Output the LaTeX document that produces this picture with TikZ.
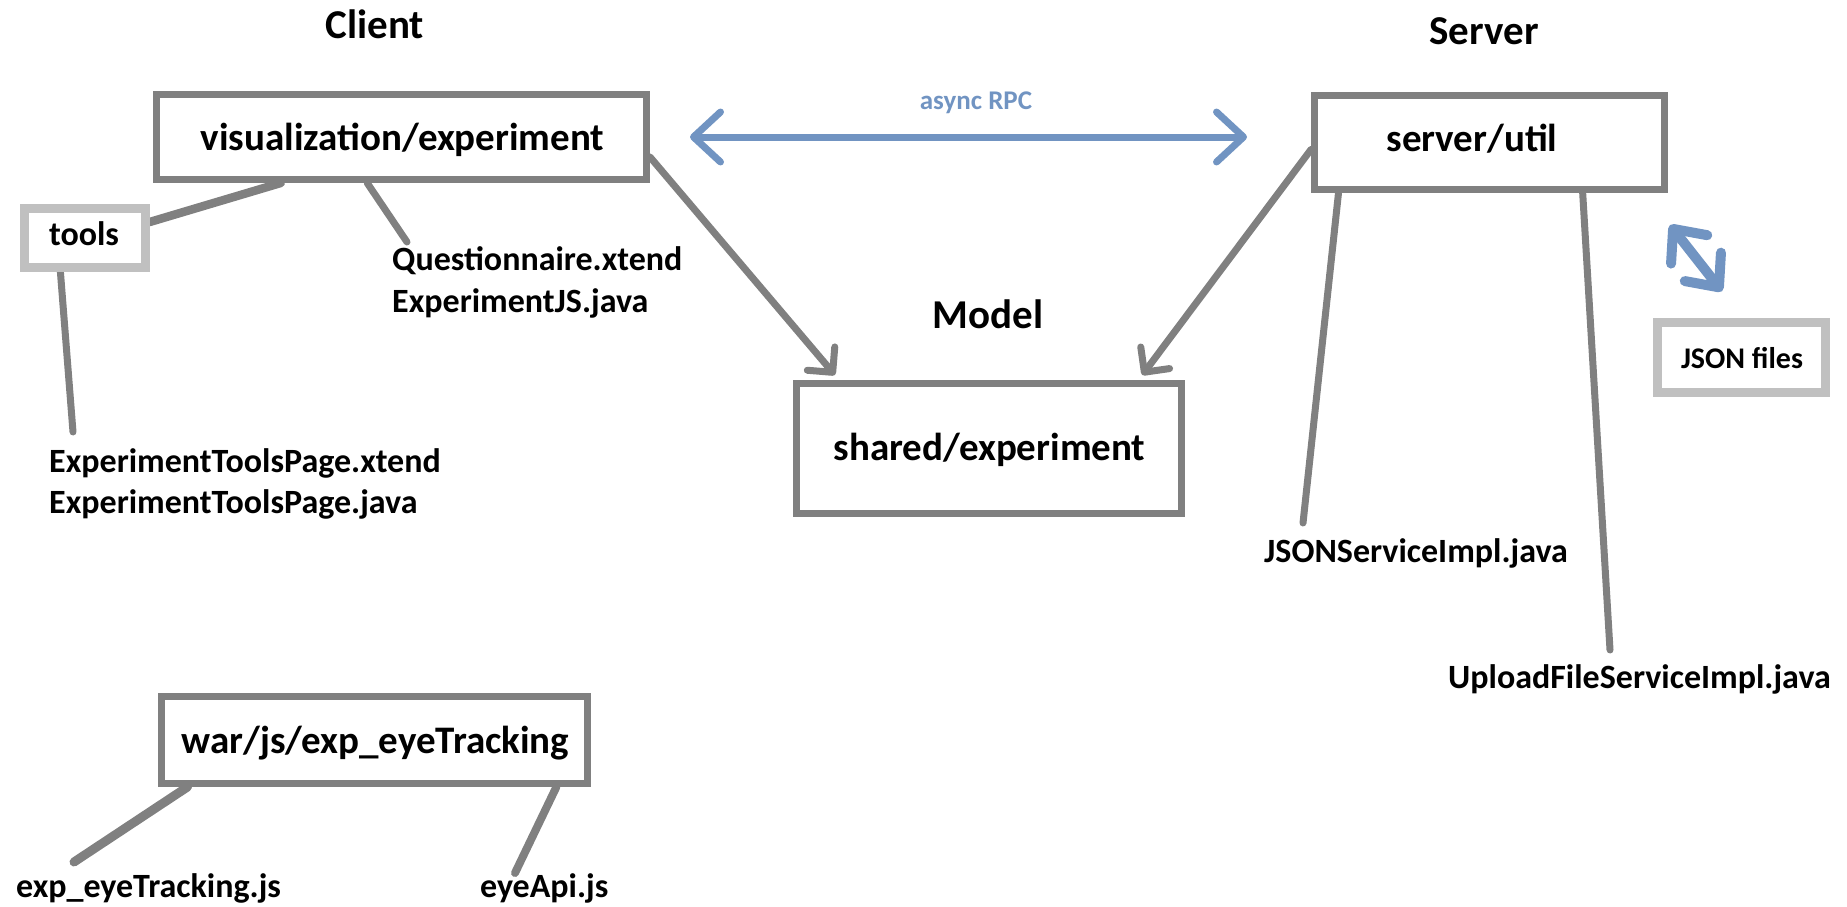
\documentclass[tikz,border=0pt]{standalone}
\usepackage{fontspec}
\setmainfont{Carlito}
\usetikzlibrary{arrows.meta,calc}
\pgfdeclarelayer{bg}
\pgfsetlayers{bg,main}
\definecolor{edgegray}{RGB}{128,128,128}
\definecolor{palegray}{RGB}{192,192,192}
\definecolor{rpcblue}{RGB}{113,148,194}
\newcommand{\bfsize}[1]{\fontsize{#1}{#1}\selectfont\bfseries}

\begin{document}
\begin{tikzpicture}[x=1pt,y=-1pt,
  heading/.style={font={\bfsize{41}}, inner sep=0pt, anchor=base},
  title/.style={font={\bfsize{39}}, inner sep=0pt, anchor=base},
  file/.style={font={\bfsize{34}}, inner sep=0pt, anchor=base west},
  pkg/.style={draw=edgegray, line width=7pt, fill=white, inner sep=0pt},
  aux/.style={draw=palegray, line width=8.5pt, fill=white, inner sep=0pt},
  link/.style={draw=edgegray, line width=7pt, line cap=round},
  uses/.style={link, -{Straight Barb[length=18pt, width=36pt, round]}},
  rpc/.style={draw=rpcblue, line width=7pt, line cap=round,
    {Straight Barb[length=27pt, width=50pt, round]}-{Straight Barb[length=27pt, width=50pt, round]}},
]
\useasboundingbox (0,0) rectangle (1847,907);

% section headings
\node[heading] (client) at (375,39) {Client};
\node[heading] (server) at (1484,45) {Server};
\node[heading] (model)  at (988,328) {Model};

% package boxes
\node[pkg, minimum width=490pt, minimum height=85pt] (visbox) at (401.5,137) {};
\node[title] (vis) at (402.5,150) {visualization/experiment};

\node[aux, minimum width=121pt, minimum height=59pt] (toolsbox) at (85,238) {};
\node[font={\bfsize{34}}, inner sep=0pt, anchor=base] (tools) at (84,245) {tools};

\node[pkg, minimum width=385pt, minimum height=130pt] (sharedbox) at (989,448.5) {};
\node[title] (shared) at (989.5,460) {shared/experiment};

\node[pkg, minimum width=350pt, minimum height=94pt] (serverbox) at (1489.5,142.5) {};
\node[title] (util) at (1472,151) {server/util};

\node[aux, minimum width=168pt, minimum height=70pt] (jsonbox) at (1741.5,357.5) {};
\node[font={\bfsize{30}}, inner sep=0pt, anchor=base] (json) at (1742,368) {JSON files};

\node[pkg, minimum width=426pt, minimum height=87pt] (warbox) at (374.5,740) {};
\node[title] (war) at (375.5,753) {war/js/exp\_eyeTracking};

% file names
\node[file] (quest)   at (392,270)  {Questionnaire.xtend};
\node[file] (expjs)   at (392,312)  {ExperimentJS.java};
\node[file] (etx)     at (49,472)   {ExperimentToolsPage.xtend};
\node[file] (etj)     at (49,513)   {ExperimentToolsPage.java};
\node[file] (jsonsvc) at (1264,562) {JSONServiceImpl.java};
\node[file] (upload)  at (1448,688) {UploadFileServiceImpl.java};
\node[file] (eyejs)   at (16,897)   {exp\_eyeTracking.js};
\node[file] (eyeapi)  at (480,897)  {eyeApi.js};

\node[font={\bfsize{27}}, text=rpcblue, inner sep=0pt, anchor=base] (rpclbl) at (976,110) {async RPC};

% connectors, kept behind the boxes
\begin{pgfonlayer}{bg}
  \draw[link, line width=8.5pt] ($(toolsbox.east)+(0,-16)$) -- ($(visbox.south west)!0.257!(visbox.south east)$);
  \draw[link] ($(visbox.south west)!0.431!(visbox.south east)$) -- ($(quest.base west)+(15,-28)$);
  \draw[link] ($(toolsbox.south west)!0.31!(toolsbox.south east)$) -- ($(etx.base west)+(24,-40)$);

  \draw[uses] ($(visbox.east)+(0,20)$) -- ($(sharedbox.north west)!0.107!(sharedbox.north east)+(0,-5)$);
  \draw[uses] ($(serverbox.west)+(0,7)$) -- ($(sharedbox.north west)!0.891!(sharedbox.north east)+(0,-5)$);

  \draw[link] ($(serverbox.south west)!0.077!(serverbox.south east)$) -- ($(jsonsvc.base west)+(39,-39)$);
  \draw[link] ($(serverbox.south west)!0.761!(serverbox.south east)$) -- ($(upload.base west)+(162,-38)$);

  \draw[rpc] ($(visbox.east)+(40,0)$) -- ($(serverbox.west |- visbox.east)+(-64,0)$);
  \draw[rpc, line width=10pt,
    {Straight Barb[length=26pt, width=46pt, round]}-{Straight Barb[length=26pt, width=46pt, round]}]
    ($(serverbox.south east)+(2,32)$) -- ($(jsonbox.north)+(-19.5,-27)$);

  \draw[link, line width=9pt] ($(warbox.south west)!0.068!(warbox.south east)$) -- ($(eyejs.base west)+(58,-35)$);
  \draw[link, line width=8pt] ($(warbox.south west)!0.920!(warbox.south east)$) -- ($(eyeapi.base west)+(35,-24)$);
\end{pgfonlayer}
\end{tikzpicture}
\end{document}
